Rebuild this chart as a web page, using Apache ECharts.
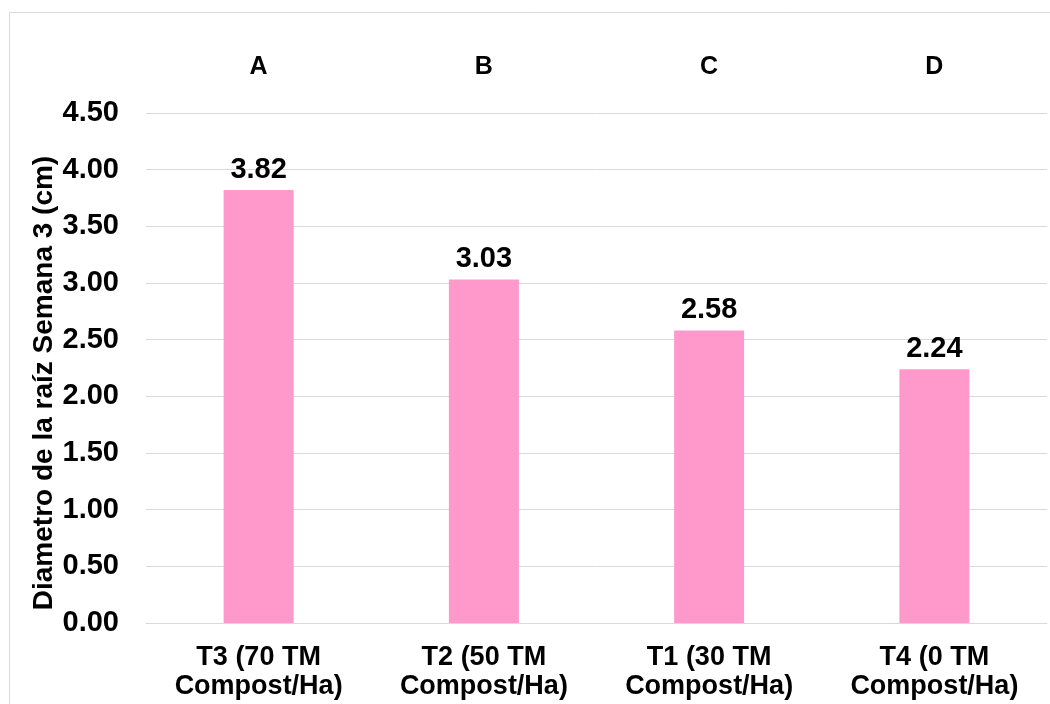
<!DOCTYPE html>
<html>
<head>
<meta charset="utf-8">
<script src="https://cdn.jsdelivr.net/npm/echarts@6/dist/echarts.min.js"></script>
<style>
  html, body { margin: 0; padding: 0; background: #ffffff; }
  #chart { width: 1050px; height: 704px; }
</style>
</head>
<body>
<div id="chart"></div>
<script>
// Root diameter at week 3 by compost treatment
const treatments = ['T3 (70 TM\nCompost/Ha)', 'T2 (50 TM\nCompost/Ha)', 'T1 (30 TM\nCompost/Ha)', 'T4 (0 TM\nCompost/Ha)'];
const diameters = [3.82, 3.03, 2.58, 2.24];
const groupLetters = ['A', 'B', 'C', 'D'];
const yTitle = 'Diametro de la raíz Semana 3 (cm)';

const FONT = '"Liberation Sans", Arial, sans-serif';

const chart = echarts.init(document.getElementById('chart'), null, { renderer: 'canvas' });

chart.setOption({
  backgroundColor: '#ffffff',
  animation: false,
  graphic: [{
    type: 'rect',
    silent: true,
    shape: { x: 9.5, y: 12.5, width: 1100, height: 800 },
    style: { fill: 'none', stroke: '#d9d9d9', lineWidth: 1 }
  }],
  grid: { left: 146, right: 3, top: 113, bottom: 81, containLabel: false },
  xAxis: [{
    type: 'category',
    data: treatments,
    position: 'bottom',
    axisLine: { show: true, lineStyle: { color: '#d9d9d9', width: 1 } },
    axisTick: { show: false },
    axisLabel: {
      margin: 20,
      fontFamily: FONT,
      fontWeight: 'bold',
      fontSize: 27,
      lineHeight: 29,
      color: '#000000'
    }
  }, {
    type: 'category',
    data: groupLetters,
    position: 'top',
    axisLine: { show: false },
    axisTick: { show: false },
    splitLine: { show: false },
    axisLabel: {
      margin: 33,
      fontFamily: FONT,
      fontWeight: 'bold',
      fontSize: 25,
      color: '#000000'
    }
  }],
  yAxis: {
    type: 'value',
    min: 0,
    max: 4.5,
    interval: 0.5,
    name: yTitle,
    nameLocation: 'middle',
    nameGap: 88,
    nameMoveOverlap: false,
    nameTextStyle: {
      fontFamily: FONT,
      fontWeight: 'bold',
      fontSize: 28,
      color: '#000000',
      padding: [0, 30, 0, 0]
    },
    axisLine: { show: false },
    axisTick: { show: false },
    splitLine: { show: true, lineStyle: { color: '#d9d9d9', width: 1 } },
    axisLabel: {
      margin: 27,
      fontFamily: FONT,
      fontWeight: 'bold',
      fontSize: 29,
      color: '#000000',
      formatter: v => v.toFixed(2)
    }
  },
  series: [{
    type: 'bar',
    xAxisIndex: 0,
    data: diameters,
    barWidth: 70,
    itemStyle: { color: '#ff99cc' },
    label: {
      show: true,
      position: 'top',
      distance: 6,
      fontFamily: FONT,
      fontWeight: 'bold',
      fontSize: 29,
      color: '#000000',
      formatter: p => p.value.toFixed(2)
    }
  }]
});
</script>
</body>
</html>
